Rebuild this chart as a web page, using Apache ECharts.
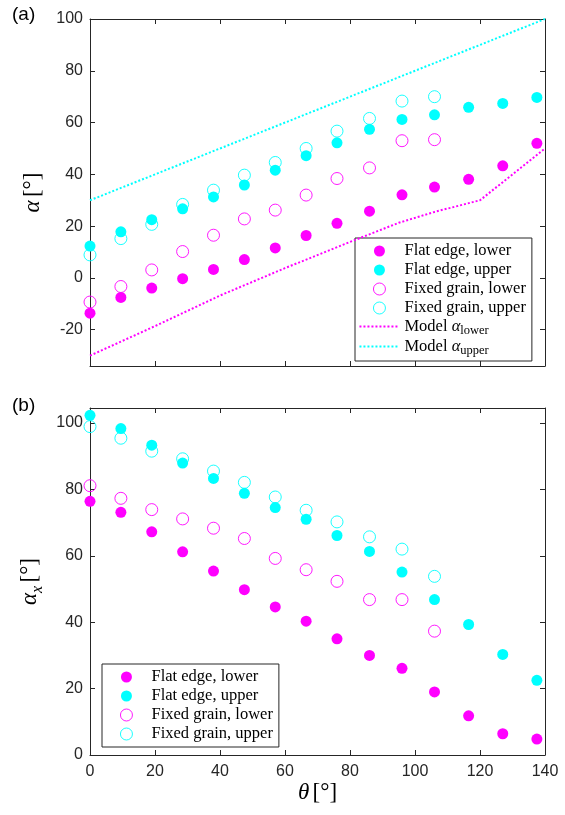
<!DOCTYPE html>
<html>
<head>
<meta charset="utf-8">
<script src="https://cdn.jsdelivr.net/npm/echarts@6/dist/echarts.min.js"></script>
<style>html,body{margin:0;padding:0;background:#fff}#c{width:565px;height:815px}</style>
</head>
<body>
<div id="c"></div>
<script>
// ---- data ----
var theta = [0, 9.5, 19, 28.5, 38, 47.5, 57, 66.5, 76, 86, 96, 106, 116.5, 127, 137.5];
var thetaFixed = [0, 9.5, 19, 28.5, 38, 47.5, 57, 66.5, 76, 86, 96, 106];

// panel (a): alpha
var flatLowerA = [-13.6, -7.5, -3.9, -0.3, 3.3, 7.1, 11.6, 16.4, 21.1, 25.8, 32.1, 35.1, 38.1, 43.3, 52.0];
var flatUpperA = [12.3, 17.8, 22.5, 26.7, 31.3, 35.9, 41.6, 47.2, 52.2, 57.4, 61.2, 63.0, 65.9, 67.4, 69.7];
var fixedLowerA = [-9.3, -3.3, 3.1, 10.2, 16.5, 22.8, 26.2, 32.0, 38.4, 42.5, 53.0, 53.4];
var fixedUpperA = [8.9, 15.2, 20.7, 28.4, 33.9, 39.7, 44.6, 50.0, 56.7, 61.6, 68.3, 70.0];
var modelLowerTheta = [0, 20, 40, 60, 80, 95, 106, 120, 140];
var modelLowerAlpha = [-30, -18.6, -6.8, 3.8, 13.9, 21.3, 25.5, 30, 50];
var modelUpperTheta = [0, 140];
var modelUpperAlpha = [30, 100];

// panel (b): alpha_x
var flatLowerB = [76.4, 73.1, 67.2, 61.2, 55.4, 49.8, 44.6, 40.3, 35.0, 30.0, 26.1, 19.0, 11.8, 6.4, 4.8];
var flatUpperB = [102.3, 98.3, 93.3, 87.9, 83.3, 78.8, 74.5, 71.0, 66.1, 61.3, 55.1, 46.8, 39.3, 30.3, 22.5];
var fixedLowerB = [81.1, 77.3, 73.9, 71.1, 68.3, 65.2, 59.2, 55.8, 52.3, 46.8, 46.8, 37.3];
var fixedUpperB = [98.9, 95.4, 91.5, 89.2, 85.5, 82.1, 77.7, 73.7, 70.2, 65.7, 62.0, 53.8];

var yTicksA = [-20, 0, 20, 40, 60, 80, 100];
var yTicksB = [0, 20, 40, 60, 80, 100];

var names = ['Flat edge, lower', 'Flat edge, upper', 'Fixed grain, lower', 'Fixed grain, upper', 'Model lower', 'Model upper'];

// ---- helpers ----
function pairs(xs, ys) { return ys.map(function (y, i) { return [xs[i], y]; }); }
var MAG = '#FF00FF', CYA = '#00FFFF', AX = '#262626';
var sansFont = 'Liberation Sans, Arial, sans-serif';
var serifFont = 'Liberation Serif, Times New Roman, serif';
var CLEAR = 'rgba(255,255,255,0)';

function xAx(grid, pos, showLabel, extra) {
  var o = {
    type: 'value', gridIndex: grid, position: pos, min: 0, max: 140, interval: 20,
    axisLine: { show: true, onZero: false, lineStyle: { color: AX, width: 1 } },
    axisTick: { show: true, inside: true, length: 5, lineStyle: { color: AX } },
    axisLabel: { show: showLabel, margin: 9, fontFamily: sansFont, fontSize: 16, color: AX },
    splitLine: { show: false }
  };
  return Object.assign(o, extra || {});
}
function yAx(grid, pos, min, max, ticks, showLabel, extra) {
  var o = {
    type: 'value', gridIndex: grid, position: pos, min: min, max: max,
    axisLine: { show: true, onZero: false, lineStyle: { color: AX, width: 1 } },
    axisTick: { show: true, inside: true, length: 5, customValues: ticks, lineStyle: { color: AX } },
    axisLabel: { show: showLabel, margin: 7, customValues: ticks, fontFamily: sansFont, fontSize: 16, color: AX },
    splitLine: { show: false }
  };
  return Object.assign(o, extra || {});
}

function filled(name, xs, ys, color, xi, yi) {
  return { type: 'scatter', name: name, xAxisIndex: xi, yAxisIndex: yi, data: pairs(xs, ys),
    symbol: 'circle', symbolSize: 11, itemStyle: { color: color, opacity: 1 }, z: 3 };
}
function open(name, xs, ys, color, xi, yi) {
  return { type: 'scatter', name: name, xAxisIndex: xi, yAxisIndex: yi, data: pairs(xs, ys),
    symbol: 'circle', symbolSize: 12, itemStyle: { color: CLEAR, borderColor: color, borderWidth: 0.9, opacity: 1 }, z: 4 };
}
function model(name, xs, ys, color) {
  return { type: 'line', name: name, xAxisIndex: 0, yAxisIndex: 0, data: pairs(xs, ys),
    symbol: 'none', showSymbol: false, silent: true, z: 5,
    lineStyle: { color: color, width: 2, type: [2, 2], cap: 'butt' }, itemStyle: { color: color } };
}

// legend icons, all drawn in a 40x12 box
var ICON_FILLED = 'path://M0,0M40,12M14.5,6A5.5,5.5,0,1,0,25.5,6A5.5,5.5,0,1,0,14.5,6Z';
var ICON_OPEN = 'path://M0,0M40,12M14,6A6,6,0,1,0,26,6A6,6,0,1,0,14,6Z';
var ICON_DOTS = 'path://M0,0M40,12';
for (var k = 0; k < 10; k++) { ICON_DOTS += 'M' + (k * 4) + ',5h2v2h-2z'; }
function legendItems(n) {
  var items = [
    { name: names[0], icon: ICON_FILLED, itemStyle: { color: MAG, borderWidth: 0 } },
    { name: names[1], icon: ICON_FILLED, itemStyle: { color: CYA, borderWidth: 0 } },
    { name: names[2], icon: ICON_OPEN, itemStyle: { color: CLEAR, borderColor: MAG, borderWidth: 0.9 } },
    { name: names[3], icon: ICON_OPEN, itemStyle: { color: CLEAR, borderColor: CYA, borderWidth: 0.9 } },
    { name: names[4], icon: ICON_DOTS, itemStyle: { color: MAG, borderWidth: 0, opacity: 1 } },
    { name: names[5], icon: ICON_DOTS, itemStyle: { color: CYA, borderWidth: 0, opacity: 1 } }
  ];
  return items.slice(0, n);
}

var legendRich = {
  n: { fontFamily: serifFont, fontSize: 16.5, color: '#000', lineHeight: 18 },
  mn: { fontFamily: serifFont, fontSize: 16.5, color: '#000', lineHeight: 14 },
  ma: { fontFamily: serifFont, fontStyle: 'italic', fontSize: 16.5, color: '#000', lineHeight: 14 },
  s: { fontFamily: serifFont, fontSize: 12.5, color: '#000', lineHeight: 14, height: 6, verticalAlign: 'bottom' }
};
function legendFmt(name) {
  if (name === 'Model lower') return '{mn|Model }{ma|α}{s|lower}';
  if (name === 'Model upper') return '{mn|Model }{ma|α}{s|upper}';
  return '{n|' + name + '}';
}
function legend(left, top, n) {
  return {
    data: legendItems(n), left: left, top: top, orient: 'vertical', itemWidth: 40, itemHeight: 12, itemGap: 1,
    padding: [4, 6, 4, 4], backgroundColor: '#fff', borderColor: '#262626', borderWidth: 1,
    selectedMode: false, formatter: legendFmt,
    textStyle: { fontFamily: serifFont, fontSize: 16.5, color: '#000', lineHeight: 18, rich: legendRich }
  };
}

var chart = echarts.init(document.getElementById('c'), null, { renderer: 'canvas' });
chart.setOption({
  animation: false,
  backgroundColor: '#fff',
  grid: [
    { left: 90, top: 19, width: 455, height: 347 },
    { left: 90, top: 408, width: 455, height: 347 }
  ],
  xAxis: [
    xAx(0, 'bottom', false),
    xAx(0, 'top', false),
    xAx(1, 'bottom', true, {
      name: '{i|θ} {n|[°]}', nameLocation: 'middle', nameGap: 26,
      nameTextStyle: { rich: {
        i: { fontFamily: serifFont, fontStyle: 'italic', fontSize: 23, color: '#000' },
        n: { fontFamily: serifFont, fontSize: 23, color: '#000' } } }
    }),
    xAx(1, 'top', false)
  ],
  yAxis: [
    yAx(0, 'left', -34, 100, yTicksA, true, {
      name: '{i|α} {n|[°]}', nameLocation: 'middle', nameGap: 46, nameRotate: 90,
      nameTextStyle: { rich: {
        i: { fontFamily: serifFont, fontStyle: 'italic', fontSize: 23, color: '#000' },
        n: { fontFamily: serifFont, fontSize: 23, color: '#000' } } }
    }),
    yAx(0, 'right', -34, 100, yTicksA, false),
    yAx(1, 'left', 0, 104.5, yTicksB, true, {
      name: '{i|α}{s|x} {n|[°]}', nameLocation: 'middle', nameGap: 46, nameRotate: 90,
      nameTextStyle: { rich: {
        i: { fontFamily: serifFont, fontStyle: 'italic', fontSize: 23, color: '#000', lineHeight: 24 },
        s: { fontFamily: serifFont, fontStyle: 'italic', fontSize: 16, color: '#000', lineHeight: 24, height: 10, verticalAlign: 'bottom' },
        n: { fontFamily: serifFont, fontSize: 23, color: '#000', lineHeight: 24 } } }
    }),
    yAx(1, 'right', 0, 104.5, yTicksB, false)
  ],
  legend: [
    legend(355, 238, 6),
    legend(102, 664, 4)
  ],
  series: [
    filled(names[0], theta, flatLowerA, MAG, 0, 0),
    filled(names[1], theta, flatUpperA, CYA, 0, 0),
    open(names[2], thetaFixed, fixedLowerA, MAG, 0, 0),
    open(names[3], thetaFixed, fixedUpperA, CYA, 0, 0),
    model(names[4], modelLowerTheta, modelLowerAlpha, MAG),
    model(names[5], modelUpperTheta, modelUpperAlpha, CYA),
    filled(names[0], theta, flatLowerB, MAG, 2, 2),
    filled(names[1], theta, flatUpperB, CYA, 2, 2),
    open(names[2], thetaFixed, fixedLowerB, MAG, 2, 2),
    open(names[3], thetaFixed, fixedUpperB, CYA, 2, 2)
  ],
  graphic: [
    { type: 'text', left: 12, top: 5, style: { text: '(a)', font: '19px ' + sansFont, fill: '#000' } },
    { type: 'text', left: 12, top: 396, style: { text: '(b)', font: '19px ' + sansFont, fill: '#000' } }
  ]
});
</script>
</body>
</html>
